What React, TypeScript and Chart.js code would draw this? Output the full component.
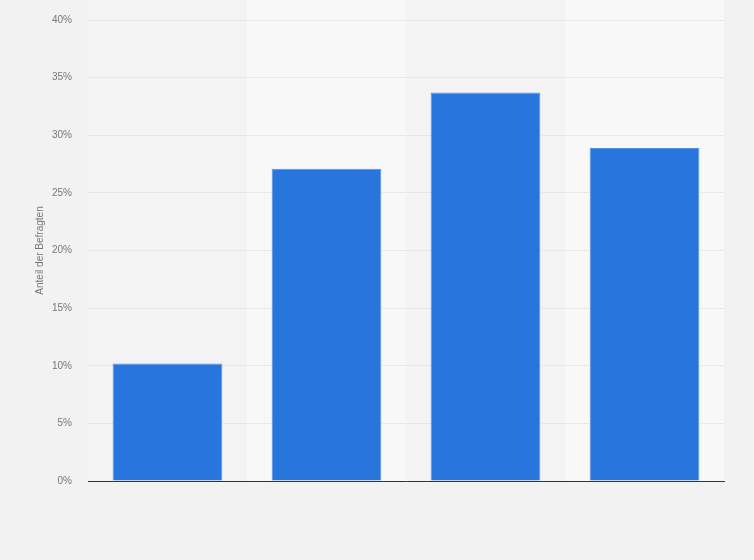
import { useEffect, useRef } from "react";
import { Chart, registerables } from "chart.js";

Chart.register(...registerables);

// categories are not shown in the picture (no x labels)
const categories = ["A", "B", "C", "D"];
const shares = [10.2, 27.1, 33.7, 28.9];
const yMax = 40;
const yStep = 5;

const bandsPlugin = {
  id: "bands",
  beforeDraw(chart: Chart) {
    const { ctx, chartArea, scales } = chart;
    const x = scales.x;
    ctx.save();
    ctx.fillStyle = "#f2f2f2";
    ctx.fillRect(0, 0, chart.width, chart.height);
    const w = (chartArea.right - chartArea.left) / categories.length;
    categories.forEach((_, i) => {
      const cx = x.getPixelForValue(i);
      ctx.fillStyle = i % 2 === 0 ? "#f3f3f3" : "#f8f8f8";
      ctx.fillRect(cx - w / 2, 0, w, chartArea.bottom);
    });
    ctx.restore();
  },
};

export default function App() {
  const chartRef = useRef<HTMLCanvasElement>(null);

  useEffect(() => {
    document.body.style.margin = "0";
    if (!chartRef.current) return;
    const ctx = chartRef.current.getContext("2d");
    if (!ctx) return;

    const font = { family: "'Liberation Sans', Arial, sans-serif", size: 10 };

    const chart = new Chart(ctx, {
      type: "bar",
      data: {
        labels: categories,
        datasets: [
          {
            data: shares,
            backgroundColor: "#2876dd",
            borderColor: "#5592e8",
            borderWidth: 1,
            categoryPercentage: 1,
            barPercentage: 0.69,
          },
        ],
      },
      options: {
        animation: false,
        responsive: true,
        maintainAspectRatio: false,
        layout: { padding: { left: 30, right: 30, top: 20, bottom: 79 } },
        plugins: {
          legend: { display: false },
          tooltip: { enabled: false },
        },
        scales: {
          x: {
            z: 1,
            ticks: { display: false },
            grid: { display: false, drawTicks: false },
            border: { display: true, color: "#333333", width: 1 },
          },
          y: {
            min: 0,
            max: yMax,
            afterFit: (scale: any) => {
              scale.width = 58;
              scale.paddingTop = 0;
              scale.paddingBottom = 0;
            },
            ticks: {
              stepSize: yStep,
              padding: 16,
              color: "#777777",
              font,
              callback: (v: any) => v + "%",
            },
            grid: {
              drawTicks: false,
              color: (c: any) => (c.tick && c.tick.value === 0 ? "rgba(0,0,0,0)" : "#d9d9d9"),
              lineWidth: 1,
            },
            border: { display: false, dash: [1, 1] },
            title: {
              display: true,
              text: "Anteil der Befragten",
              color: "#777777",
              font,
              padding: { top: 4, bottom: 4 },
            },
          },
        },
      },
      plugins: [bandsPlugin],
    });

    return () => {
      chart.destroy();
    };
  }, []);

  return (
    <div style={{ position: "relative", width: 754, height: 560, background: "#f2f2f2" }}>
      <canvas ref={chartRef} />
    </div>
  );
}
